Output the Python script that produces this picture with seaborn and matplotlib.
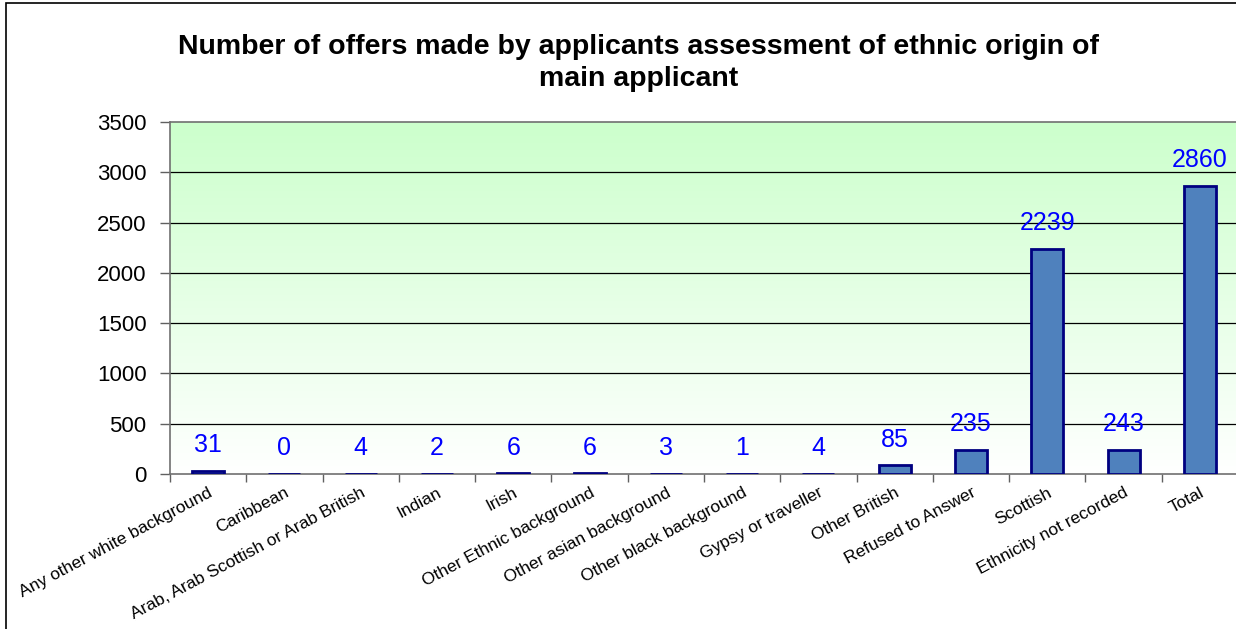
import numpy as np
import matplotlib
matplotlib.use("Agg")
import matplotlib.pyplot as plt
from matplotlib.patches import Rectangle
import seaborn as sns

categories = [
    "Any other white background", "Caribbean", "Arab, Arab Scottish or Arab British",
    "Indian", "Irish", "Other Ethnic background", "Other asian background",
    "Other black background", "Gypsy or traveller", "Other British",
    "Refused to Answer", "Scottish", "Ethnicity not recorded", "Total",
]
offers = [31, 0, 4, 2, 6, 6, 3, 1, 4, 85, 235, 2239, 243, 2860]
y_ticks = [0, 500, 1000, 1500, 2000, 2500, 3000, 3500]
title = "Number of offers made by applicants assessment of ethnic origin of\nmain applicant"

sns.set_theme(style="white")
plt.rcParams["font.family"] = ["Liberation Sans", "DejaVu Sans"]

W, H = 1236, 629
fig = plt.figure(figsize=(W / 100, H / 100), dpi=100)
ax = fig.add_axes([170 / W, (H - 474) / H, (1238 - 170) / W, (474 - 122) / H])

# green-to-white gradient behind the plot area
grad = np.linspace(0, 1, 256).reshape(-1, 1)
top = np.array([0.80, 1.0, 0.80])
bot = np.array([1.0, 1.0, 1.0])
img = top * (1 - grad[..., None]) + bot * grad[..., None]
ax.imshow(img, extent=[0, 1, 0, 1], transform=ax.transAxes, aspect="auto",
          zorder=0, interpolation="bilinear")

sns.barplot(x=categories, y=offers, color="#4F81BD", saturation=1, width=0.42,
            edgecolor="#000080", linewidth=2, ax=ax, zorder=3)

ax.set_xlim(-0.5, len(categories) - 0.5)
ax.set_ylim(y_ticks[0], y_ticks[-1])
ax.set_yticks(y_ticks)
ax.set_yticklabels([str(t) for t in y_ticks], fontsize=16, color="black")
for t in y_ticks[1:-1]:
    ax.axhline(t, color="black", lw=0.9, zorder=1)

# category labels under bars, tick marks between categories
ax.set_xticks(range(len(categories)))
ax.set_xticklabels(categories, rotation=28, ha="right", va="top",
                   rotation_mode="anchor", fontsize=12.5, color="black")
ax.tick_params(axis="x", which="major", length=0, pad=8)
ax.set_xticks(np.arange(-0.5, len(categories), 1.0), minor=True)
ax.tick_params(axis="x", which="minor", length=6, width=1, color="#606060",
               direction="out", bottom=True)
ax.tick_params(axis="y", length=7, width=1, color="#606060", direction="out",
               left=True, pad=10)
ax.set_xlabel("")
ax.set_ylabel("")

for side in ["left", "bottom", "top"]:
    ax.spines[side].set_visible(True)
    ax.spines[side].set_color("#707070")
    ax.spines[side].set_linewidth(1.2)
ax.spines["right"].set_visible(False)

for i, v in enumerate(offers):
    ax.annotate(str(v), (i, v), xytext=(0, 10), textcoords="offset points",
                ha="center", va="bottom", fontsize=18, color="#0000FF", zorder=4)

fig.text(639 / W, 1 - 63 / H, title, ha="center", va="center", fontsize=20.5,
         fontweight="bold", color="black", linespacing=1.25)

fig.patches.append(Rectangle((6 / W, -0.01), 1.0, 1.01 - 3 / H, transform=fig.transFigure,
                             fill=False, edgecolor="black", lw=1.2))

fig.savefig("out.png", dpi=100)
